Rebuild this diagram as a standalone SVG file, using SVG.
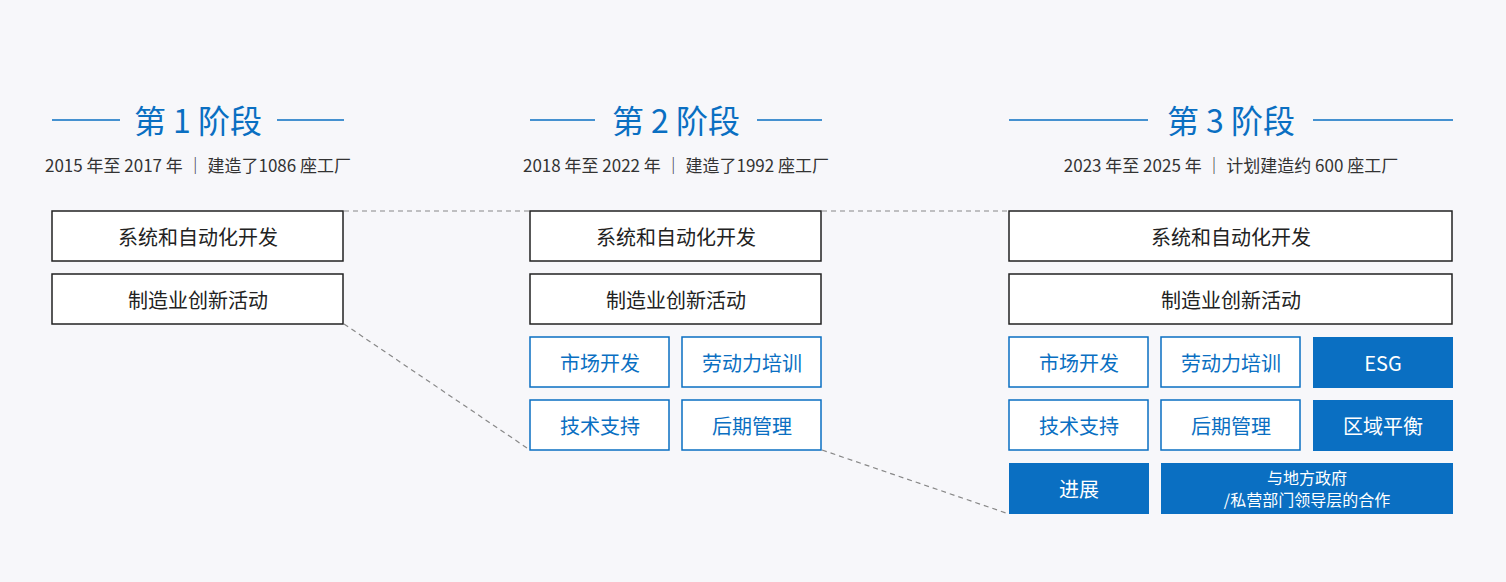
<svg xmlns="http://www.w3.org/2000/svg" width="1506" height="582" viewBox="0 0 1506 582">
<style>
text{font-family:"Noto Sans CJK SC","Noto Sans",sans-serif;text-anchor:middle;dominant-baseline:central}
.t{fill:#0a6fc2;font-size:32px}
.s{fill:#333;font-size:17px}
.bb rect{fill:#fff;stroke:#222;stroke-width:1.5}
.bb text{fill:#222;font-size:20px}
.ob rect{fill:#fff;stroke:#0a6fc2;stroke-width:1.5}
.ob text{fill:#0a6fc2;font-size:20px}
.fb rect{fill:#0a6fc2}
.fb text{fill:#fff;font-size:20px}
.hl{stroke:#0a6fc2;stroke-width:1.5}
.dl{stroke:#888;stroke-width:1.2;stroke-dasharray:5 4;fill:none}
</style>
<rect width="1506" height="582" fill="#f7f7fa"/>
<g id="connectors">
<line class="dl" x1="344" y1="211" x2="530" y2="211"/>
<line class="dl" x1="344" y1="324" x2="530" y2="450"/>
<line class="dl" x1="822" y1="211" x2="1009" y2="211"/>
<line class="dl" x1="822" y1="450" x2="1009" y2="514"/>
</g>
<g id="header1">
<line class="hl" x1="52" y1="120" x2="120" y2="120"/><line class="hl" x1="277" y1="120" x2="344" y2="120"/>
<text class="t" x="198" y="119">第 1 阶段</text>
<text class="s" x="198" y="164">2015 年至 2017 年 ｜ 建造了1086 座工厂</text>
</g>
<g id="header2">
<line class="hl" x1="530" y1="120" x2="595" y2="120"/><line class="hl" x1="757" y1="120" x2="822" y2="120"/>
<text class="t" x="676" y="119">第 2 阶段</text>
<text class="s" x="676" y="164">2018 年至 2022 年 ｜ 建造了1992 座工厂</text>
</g>
<g id="header3">
<line class="hl" x1="1009" y1="120" x2="1148" y2="120"/><line class="hl" x1="1313" y1="120" x2="1453" y2="120"/>
<text class="t" x="1231" y="119">第 3 阶段</text>
<text class="s" x="1231" y="164">2023 年至 2025 年 ｜ 计划建造约 600 座工厂</text>
</g>
<g id="s1a" class="bb"><rect x="52" y="211" width="291" height="50"/><text x="198" y="236">系统和自动化开发</text></g>
<g id="s1b" class="bb"><rect x="52" y="274" width="291" height="50"/><text x="198" y="299">制造业创新活动</text></g>
<g id="s2a" class="bb"><rect x="530" y="211" width="291" height="50"/><text x="676" y="236">系统和自动化开发</text></g>
<g id="s2b" class="bb"><rect x="530" y="274" width="291" height="50"/><text x="676" y="299">制造业创新活动</text></g>
<g id="s2c" class="ob"><rect x="530" y="337" width="139" height="50"/><text x="600" y="362">市场开发</text></g>
<g id="s2d" class="ob"><rect x="682" y="337" width="139" height="50"/><text x="752" y="362">劳动力培训</text></g>
<g id="s2e" class="ob"><rect x="530" y="400" width="139" height="50"/><text x="600" y="425">技术支持</text></g>
<g id="s2f" class="ob"><rect x="682" y="400" width="139" height="50"/><text x="752" y="425">后期管理</text></g>
<g id="s3a" class="bb"><rect x="1009" y="211" width="443" height="50"/><text x="1231" y="236">系统和自动化开发</text></g>
<g id="s3b" class="bb"><rect x="1009" y="274" width="443" height="50"/><text x="1231" y="299">制造业创新活动</text></g>
<g id="s3c" class="ob"><rect x="1009" y="337" width="139" height="50"/><text x="1079" y="362">市场开发</text></g>
<g id="s3d" class="ob"><rect x="1161" y="337" width="139" height="50"/><text x="1231" y="362">劳动力培训</text></g>
<g id="s3e" class="fb"><rect x="1313" y="337" width="140" height="51"/><text x="1383" y="362">ESG</text></g>
<g id="s3f" class="ob"><rect x="1009" y="400" width="139" height="50"/><text x="1079" y="425">技术支持</text></g>
<g id="s3g" class="ob"><rect x="1161" y="400" width="139" height="50"/><text x="1231" y="425">后期管理</text></g>
<g id="s3h" class="fb"><rect x="1313" y="400" width="140" height="51"/><text x="1383" y="425">区域平衡</text></g>
<g id="s3i" class="fb"><rect x="1009" y="463" width="140" height="51"/><text x="1079" y="488">进展</text></g>
<g id="s3j" class="fb"><rect x="1161" y="463" width="292" height="51"/><text x="1307" y="477" style="font-size:16px">与地方政府</text><text x="1307" y="499" style="font-size:16px">/私营部门领导层的合作</text></g>
</svg>
